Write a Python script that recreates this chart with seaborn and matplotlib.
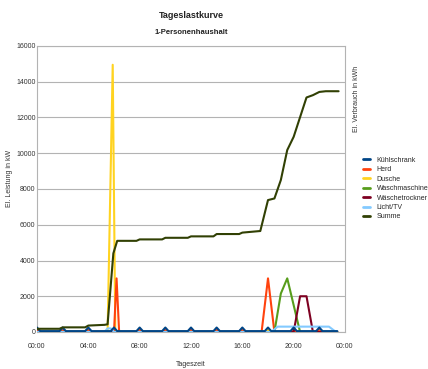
import matplotlib
matplotlib.use("Agg")
import matplotlib.pyplot as plt
from matplotlib.lines import Line2D
import seaborn as sns
import pandas as pd

# ---- data (hours of day, power / energy values) ----
kuehl_h = [0, 0.25, 1.75, 2, 2.25, 3.75, 4, 4.25, 5.75, 6, 6.25, 7.75, 8, 8.25,
           9.75, 10, 10.25, 11.75, 12, 12.25, 13.75, 14, 14.25, 15.75, 16, 16.25,
           17.75, 18, 18.25, 19.75, 20, 20.25, 21.75, 22, 22.25, 23.4]
kuehl_v = [250, 50, 50, 250, 50, 50, 250, 50, 50, 250, 50, 50, 250, 50,
           50, 250, 50, 50, 250, 50, 50, 250, 50, 50, 250, 50,
           50, 250, 50, 50, 250, 50, 50, 250, 50, 50]

herd_h = [0, 0.25, 1.75, 2, 2.25, 3.75, 4, 4.25, 6.0, 6.2, 6.4, 7.75, 8, 8.25,
          9.75, 10, 10.25, 11.75, 12, 12.25, 13.75, 14, 14.25, 15.75, 16, 16.25,
          17.5, 18, 18.5, 19.75, 20, 20.25, 21.75, 22, 22.25, 23.4]
herd_v = [150, 0, 0, 150, 0, 0, 150, 0, 0, 3000, 0, 0, 150, 0,
          0, 150, 0, 0, 150, 0, 0, 150, 0, 0, 150, 0,
          0, 3000, 0, 0, 150, 0, 0, 150, 0, 0]

dusche_h = [0, 5.5, 5.9, 6.1, 17.75, 18, 18.25, 23.4]
dusche_v = [0, 0, 14950, 0, 0, 150, 0, 0]

wasch_h = [0, 18.5, 19.0, 19.5, 20.0, 20.5, 23.4]
wasch_v = [0, 0, 2150, 3000, 1500, 0, 0]

trock_h = [0, 20.0, 20.5, 21.0, 21.5, 23.4]
trock_v = [0, 0, 2000, 2000, 0, 0]

licht_h = [0, 5.25, 5.5, 5.75, 6.0, 18.25, 18.75, 22.75, 23.3, 23.4]
licht_v = [0, 0, 200, 200, 0, 0, 300, 300, 0, 0]

summe_h = [0, 1.75, 2, 3.75, 4, 5.25, 5.5, 5.95, 6.25, 7.75, 8, 9.75, 10, 11.75,
           12, 13.75, 14, 15.75, 16, 17.4, 18, 18.5, 19, 19.5, 20, 21, 21.5,
           22, 22.5, 23.5]
summe_v = [180, 180, 260, 260, 360, 400, 430, 4400, 5100, 5100, 5180, 5180, 5270, 5270,
           5350, 5350, 5480, 5480, 5560, 5650, 7380, 7470, 8500, 10180, 10920, 13120, 13250,
           13430, 13470, 13470]

series_names = ["Kühlschrank", "Herd", "Dusche", "Waschmaschine",
                "Wäschetrockner", "Licht/TV", "Summe"]
series_data = [(kuehl_h, kuehl_v), (herd_h, herd_v), (dusche_h, dusche_v),
               (wasch_h, wasch_v), (trock_h, trock_v), (licht_h, licht_v),
               (summe_h, summe_v)]
colors = ["#004586", "#ff420e", "#ffd320", "#579d1c", "#7e0021", "#83caff", "#314004"]
zorders = [6, 4, 3, 4, 4, 5, 7]

x_ticks = [0, 4, 8, 12, 16, 20, 24]
x_labels = ["00:00", "04:00", "08:00", "12:00", "16:00", "20:00", "00:00"]
y_ticks = list(range(0, 16001, 2000))

# ---- plot ----
sns.set_theme(style="white")
plt.rcParams["font.family"] = ["Liberation Sans", "DejaVu Sans"]

fig = plt.figure(figsize=(4.28, 3.69), dpi=100)
ax = fig.add_axes([37 / 428, 1 - 332 / 369, (345 - 37) / 428, (332 - 46) / 369])

for name, (h, v), c, z in zip(series_names, series_data, colors, zorders):
    df = pd.DataFrame({"Stunde": h, "Wert": v})
    sns.lineplot(data=df, x="Stunde", y="Wert", ax=ax, color=c, lw=1.5,
                 legend=False, zorder=z, sort=False)

ax.set_xlim(0, 24)
ax.set_ylim(0, 16000)
ax.set_xticks(x_ticks)
ax.set_xticklabels(x_labels)
ax.set_yticks(y_ticks)
ax.set_yticklabels([str(t) for t in y_ticks])
ax.tick_params(axis="x", labelsize=5, colors="#333333", length=2, width=0.6,
               pad=6)
ax.tick_params(axis="y", labelsize=5, colors="#333333", length=0, pad=1)
ax.yaxis.grid(True, color="#b3b3b3", lw=0.8)
ax.xaxis.grid(False)
for s in ax.spines.values():
    s.set_color("#b3b3b3")
    s.set_linewidth(0.8)
ax.set_xlabel("Tageszeit", fontsize=5, color="#333333", labelpad=8)
ax.set_ylabel("")

fig.text(10 / 428, 1 - 178 / 369, "El. Leistung in kW", rotation=90,
         ha="center", va="center", fontsize=5, color="#333333")
fig.text(0.5 * (37 + 345) / 428, 1 - 16 / 369, "Tageslastkurve",
         ha="center", va="center", fontsize=6.5, fontweight="bold", color="#222222")
fig.text(0.5 * (37 + 345) / 428, 1 - 32 / 369, "1-Personenhaushalt",
         ha="center", va="center", fontsize=5.5, fontweight="bold", color="#222222")
fig.text(357 / 428, 1 - 99 / 369, "El. Verbrauch in kWh", rotation=90,
         ha="center", va="center", fontsize=5, color="#333333")

handles = [Line2D([0], [0], color=c, lw=2) for c in colors]
fig.legend(handles, series_names, loc="upper left",
           bbox_to_anchor=(360 / 428, 1 - 154 / 369), frameon=False,
           fontsize=5, handlelength=1.1, handletextpad=0.9, labelspacing=0.35,
           borderaxespad=0)

fig.savefig("out.png", dpi=100)
